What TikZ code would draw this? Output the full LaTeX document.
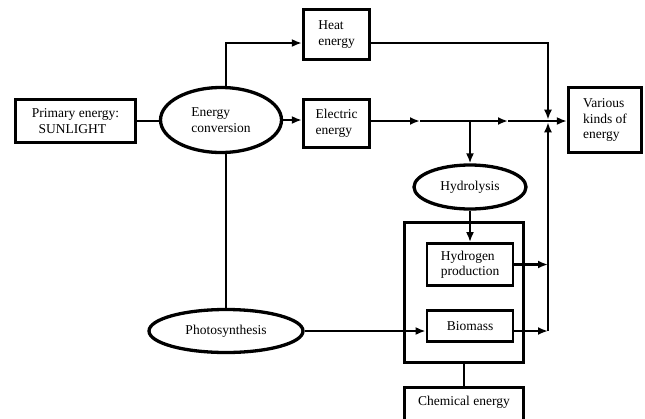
\documentclass[tikz,border=0pt]{standalone}
\usepackage{fontspec}
\setmainfont{Liberation Serif}
\usetikzlibrary{arrows.meta,shapes.geometric}

\begin{document}
\begin{tikzpicture}[>={Latex[length=10pt,width=8pt]}, x=1pt, y=-1pt,
  font=\fontsize{13.5}{15.5}\selectfont]
  \tikzstyle{box}=[rectangle,draw=black,line width=3.3pt,align=left,inner sep=0pt]
  \tikzstyle{oval}=[ellipse,draw=black,line width=3.3pt,align=left,inner sep=0pt]
  \tikzstyle{link}=[draw=black,line width=2.6pt]

\useasboundingbox (0,0) rectangle (645,418);
\clip (0,0) rectangle (645,418);

\node [box, minimum width=120, minimum height=43] (prim) at (75.5,121) {Primary energy:\\\hspace{0.5em}SUNLIGHT};
\node [oval, minimum width=121, minimum height=65] (conv) at (221,120) {Energy\\conversion};
\node [box, minimum width=66, minimum height=50] (heat) at (336.5,34.5) {Heat\\energy};
\node [box, minimum width=66, minimum height=48] (elec) at (336.5,123.5) {Electric\\energy};
\node [box, minimum width=73, minimum height=65] (various) at (605,120) {Various\\kinds of\\energy};
\node [oval, minimum width=112, minimum height=44] (hydro) at (470,187) {Hydrolysis};
\node [box, minimum width=119, minimum height=140] (cont) at (464,292.5) {};
\node [box, line width=2.8pt, minimum width=86, minimum height=42] (hprod) at (470,264.5) {Hydrogen\\production};
\node [box, line width=2.8pt, minimum width=86, minimum height=31] (bio) at (470,326) {Biomass};
\node [oval, minimum width=154, minimum height=43] (photo) at (226,331) {Photosynthesis};
\node [box, anchor=north, minimum width=119, text height=18pt, text depth=40pt] (chem) at (464,386) {Chemical energy};

\coordinate (jn) at (548,121);
\coordinate (split) at (470,121);
\coordinate (e1) at (420,121);
\coordinate (e2) at (508,121);

\draw [link] (prim.east) -- (prim.east -| conv.west);
\draw [link,->] (conv.north -| photo.north) |- ([yshift=-8.5pt]heat.west);
\draw [link,->] (conv.east) -- (conv.east -| elec.west);
\draw [link] (conv.south -| photo.north) -- (photo.north);

\draw [link,->,shorten >=1.3pt] ([yshift=-8.5pt]heat.east) -| (jn);
\draw [link,->] (elec.east |- jn) -- (e1);
\draw [link,->] (e1) -- (e2);
\draw [link,->] (e2) -- (various.west |- jn);
\draw [link,->] (split) -- (hydro.north);
\draw [link,->] (hydro.south) -- (hprod.north);

\draw [link,->] (hprod.east) -- (hprod.east -| jn);
\draw [link,->] (photo.east) -- (photo.east -| bio.west);
\draw [link,->] (photo.east -| bio.east) -- (photo.east -| jn);
\draw [link,->,shorten >=1.3pt] (photo.east -| jn) -- (jn);
\draw [link] (cont.south) -- (chem.north);

\end{tikzpicture}
\end{document}
